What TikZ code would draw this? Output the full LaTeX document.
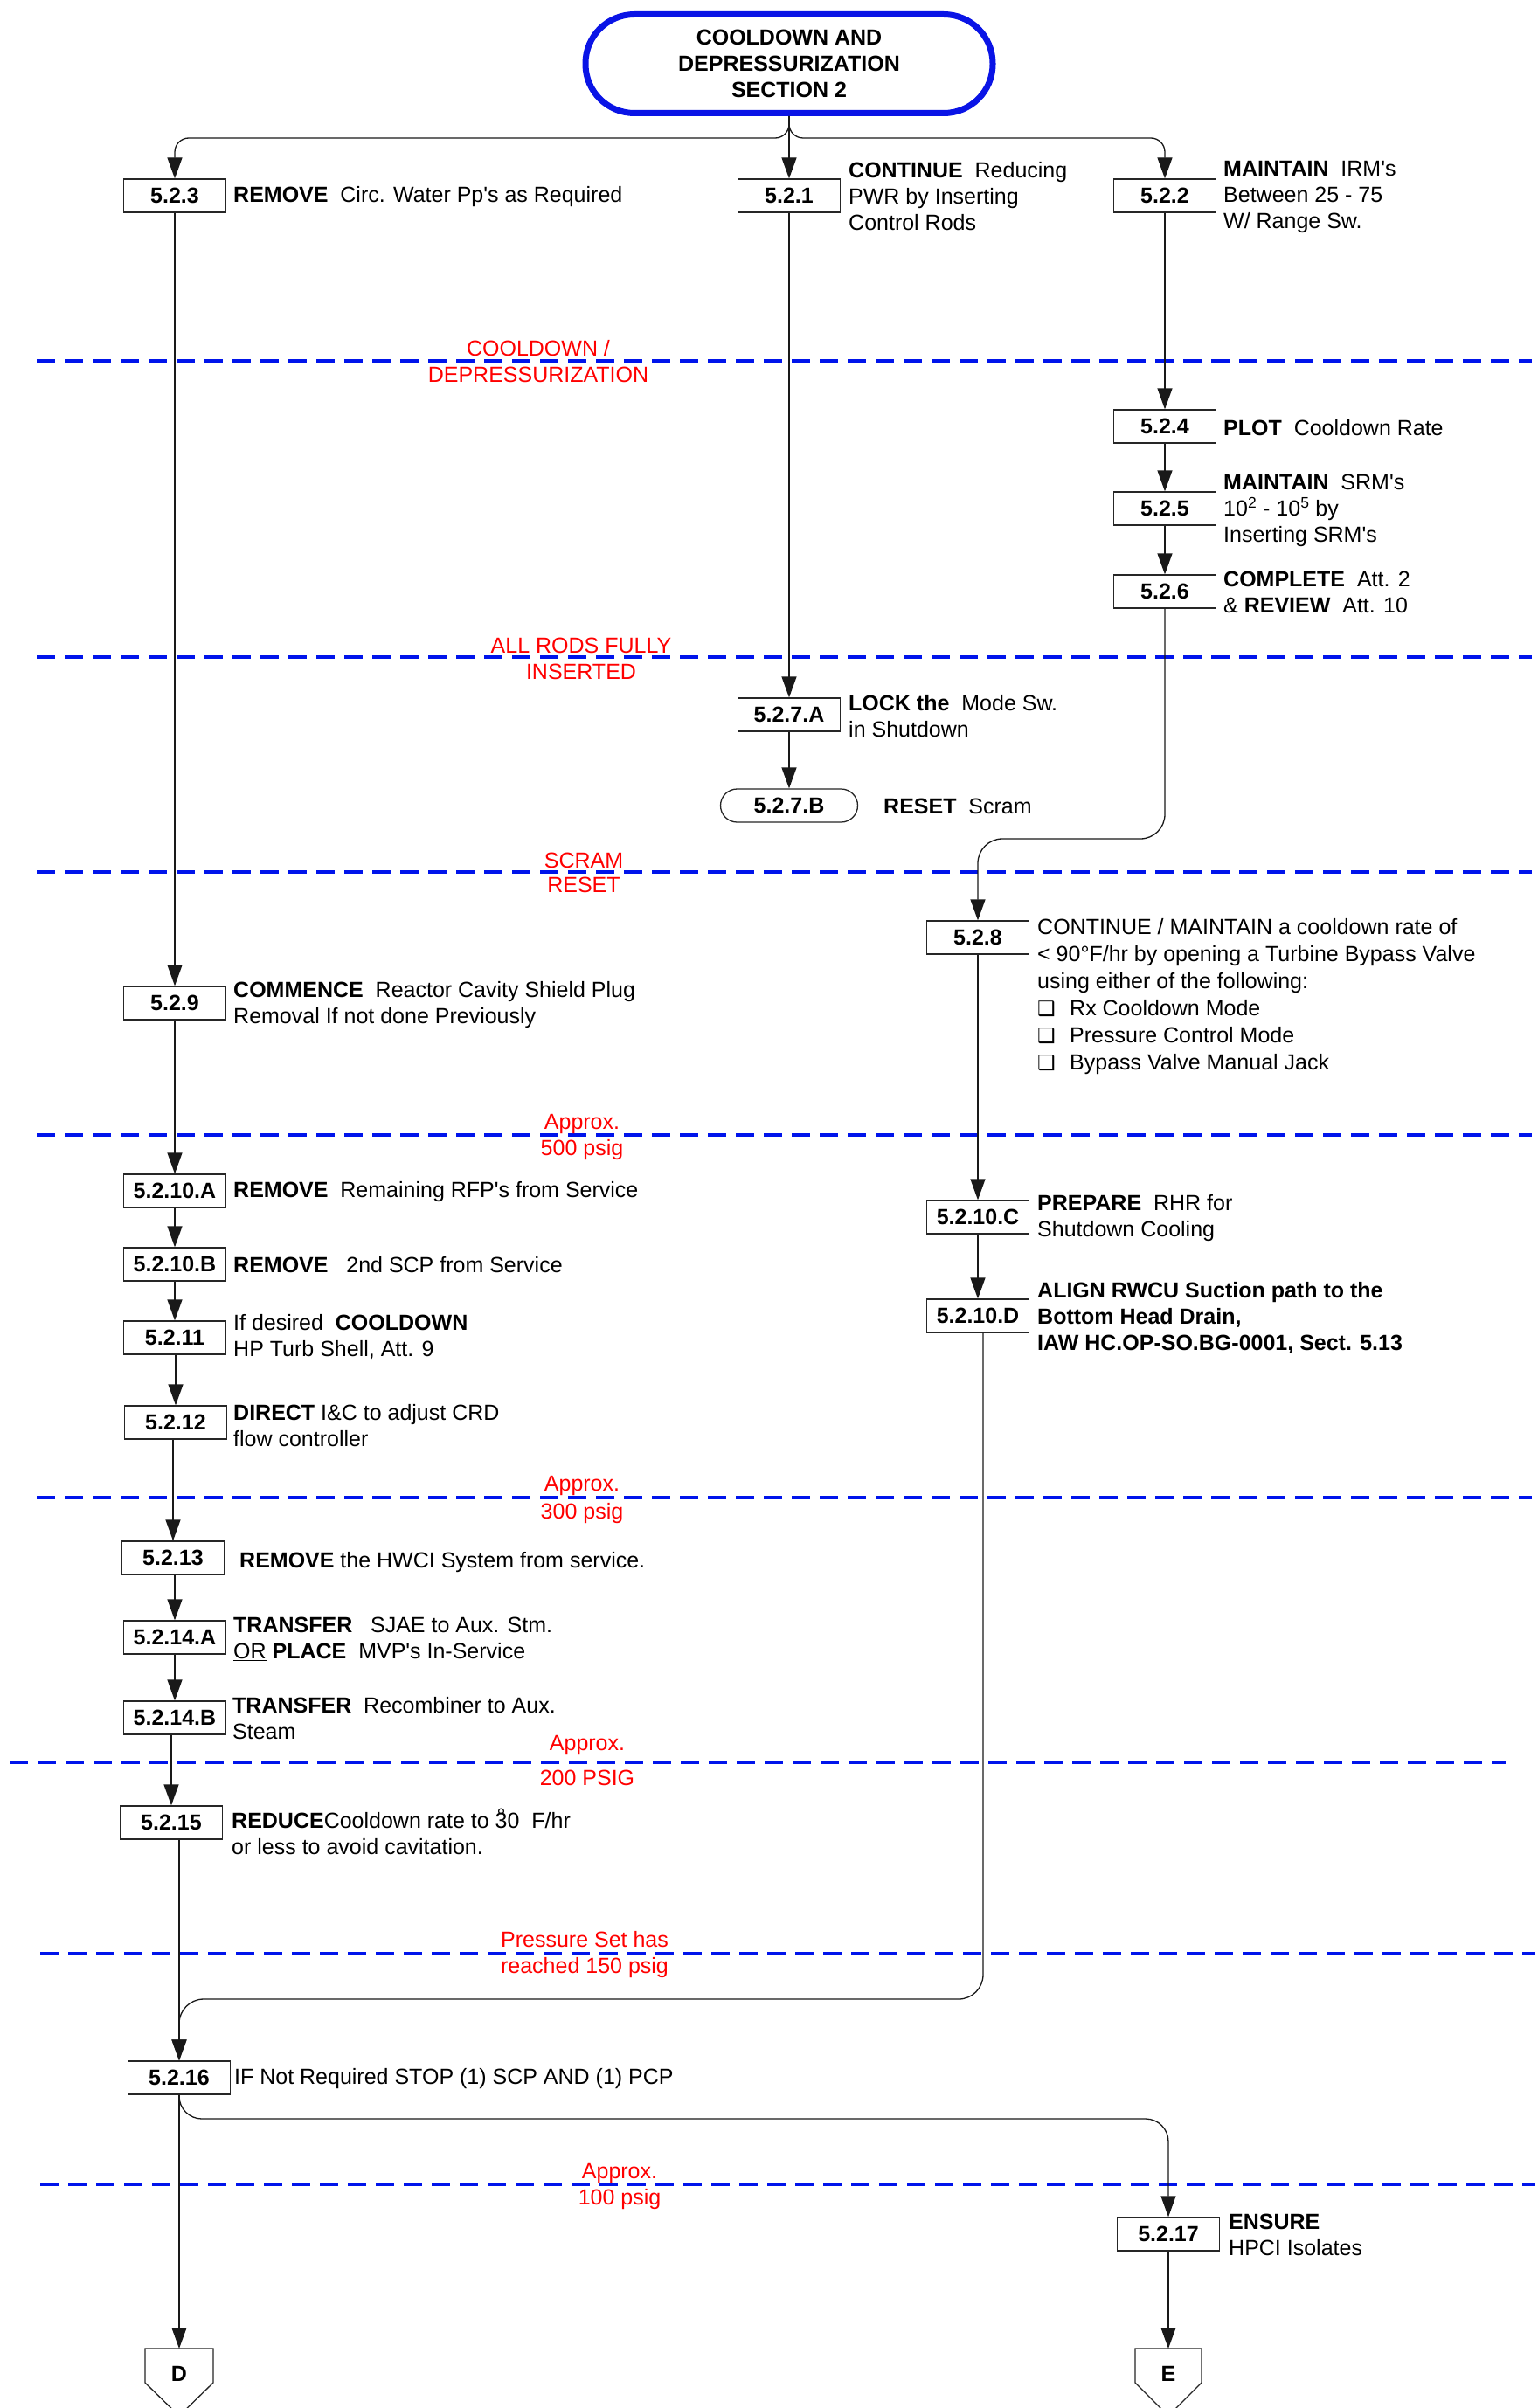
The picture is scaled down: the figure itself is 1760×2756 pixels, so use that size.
\documentclass[tikz,border=0pt]{standalone}
\usepackage{fontspec}
\setmainfont{Liberation Sans}[Ligatures=TeXOff]
\newfontfamily\dingfont{DejaVu Sans}
\usetikzlibrary{arrows.meta}
\definecolor{tblue}{RGB}{10,20,230}
\definecolor{dblue}{RGB}{0,20,235}
\definecolor{lred}{RGB}{255,0,0}
\newcommand{\bul}{\makebox[37pt][l]{\dingfont\fontsize{23}{24}\selectfont ❑}}
\begin{document}
\begin{tikzpicture}[x=1pt,y=-1pt,
  every node/.style={inner sep=0pt},
  stepbox/.style={draw=black!85, line width=1.3pt, minimum width=117pt, minimum height=38pt, font=\fontsize{25}{30}\selectfont\bfseries},
  txt/.style={anchor=west, align=left, font=\fontsize{25}{30}\selectfont},
  redlbl/.style={align=center, text=lred, font=\fontsize{25}{30}\selectfont},
  dline/.style={draw=dblue, line width=3.5pt, dash pattern=on 21pt off 11pt},
  arr/.style={draw=black!90, line width=1.3pt, -{Triangle[length=24pt,width=17pt]}},
  offpage/.style={draw=black!85, line width=1.3pt, fill=white},
  lbl/.style={font=\fontsize{25}{30}\selectfont\bfseries},
]
\useasboundingbox (0,0) rectangle (1760,2756);
\fill[white] (0,0) rectangle (1760,2756);
\clip (0,0) rectangle (1760,2756);

% dashed phase lines
\draw[dline] (42,413) -- (1753,413);
\draw[dline] (42,752) -- (1753,752);
\draw[dline] (42,998) -- (1753,998);
\draw[dline] (42,1299) -- (1753,1299);
\draw[dline] (42,1714) -- (1753,1714);
\draw[dline] (11,2017) -- (1723,2017);
\draw[dline] (46,2236) -- (1756,2236);
\draw[dline] (46,2500) -- (1756,2500);

% red labels
\node[redlbl] (l1) at (616,414) {COOLDOWN /\\DEPRESSURIZATION};
\node[redlbl] (l2) at (665,754) {ALL RODS FULLY\\INSERTED};
\node[redlbl] (l3) at (668,999) {SCRAM\\[-2pt]RESET};
\node[redlbl] (l4) at (666,1301) {Approx.\\500 psig};
\node[redlbl] (l5) at (666,1716) {Approx.\\[2pt]300 psig};
\node[redlbl] (l6) at (672,2015) {Approx.\\[10pt]200 PSIG};
\node[redlbl] (l7) at (669,2237) {Pressure Set has\\reached 150 psig};
\node[redlbl] (l8) at (709,2502) {Approx.\\100 psig};

% title
\node[draw=tblue, line width=7pt, rounded corners=56pt, minimum width=466pt, minimum height=113pt,
      align=center, font=\fontsize{25}{30}\selectfont\bfseries] (title) at (903,73)
      {COOLDOWN AND\\DEPRESSURIZATION\\SECTION 2};

% step boxes
\node[stepbox] (b523) at (200,224) {5.2.3};
\node[stepbox] (b521) at (903,224) {5.2.1};
\node[stepbox] (b522) at (1333,224) {5.2.2};
\node[stepbox] (b524) at (1333,488) {5.2.4};
\node[stepbox] (b525) at (1333,582) {5.2.5};
\node[stepbox] (b526) at (1333,677) {5.2.6};
\node[stepbox] (b527A) at (903,818) {5.2.7.A};
\node[stepbox, minimum width=157pt, rounded corners=19pt] (b527B) at (903,922) {5.2.7.B};
\node[stepbox] (b528) at (1119,1073) {5.2.8};
\node[stepbox] (b529) at (200,1148) {5.2.9};
\node[stepbox] (b5210A) at (200,1363) {5.2.10.A};
\node[stepbox] (b5210B) at (200,1447) {5.2.10.B};
\node[stepbox] (b5210C) at (1119,1393) {5.2.10.C};
\node[stepbox] (b5210D) at (1119,1506) {5.2.10.D};
\node[stepbox] (b5211) at (200,1531) {5.2.11};
\node[stepbox] (b5212) at (201,1628) {5.2.12};
\node[stepbox] (b5213) at (198,1783) {5.2.13};
\node[stepbox] (b5214A) at (200,1874) {5.2.14.A};
\node[stepbox] (b5214B) at (200,1966) {5.2.14.B};
\node[stepbox] (b5215) at (196,2086) {5.2.15};
\node[stepbox] (b5216) at (205,2378) {5.2.16};
\node[stepbox] (b5217) at (1337,2557) {5.2.17};

% step texts
\node[txt] (t523) at (267,225) {\textbf{REMOVE}\ \ Circ. Water Pp's as Required};
\node[txt] (t521) at (971,225) {\textbf{CONTINUE}\ \ Reducing\\PWR by Inserting\\Control Rods};
\node[txt] (t522) at (1400,225) {\textbf{MAINTAIN}\ \ IRM's\\Between 25 - 75\\W/ Range Sw.};
\node[txt] (t524) at (1400,490) {\textbf{PLOT}\ \ Cooldown Rate};
\node[txt] (t525) at (1400,584) {\textbf{MAINTAIN}\ \ SRM's\\10\textsuperscript{2} - 10\textsuperscript{5} by\\Inserting SRM's};
\node[txt] (t526) at (1400,678) {\textbf{COMPLETE}\ \ Att. 2\\\& \textbf{REVIEW}\ \ Att. 10};
\node[txt] (t527A) at (971,820) {\textbf{LOCK the}\ \ Mode Sw.\\in Shutdown};
\node[txt] (t527B) at (1011,923) {\textbf{RESET}\ \ Scram};
\node[txt, font=\fontsize{25}{31}\selectfont] (t528) at (1187,1141)
  {CONTINUE / MAINTAIN a cooldown rate of\\< 90°F/hr by opening a Turbine Bypass Valve\\using either of the following:\\\bul Rx Cooldown Mode\\\bul Pressure Control Mode\\\bul Bypass Valve Manual Jack};
\node[txt] (t529) at (267,1150) {\textbf{COMMENCE}\ \ Reactor Cavity Shield Plug\\Removal If not done Previously};
\node[txt] (t5210A) at (267,1364) {\textbf{REMOVE}\ \ Remaining RFP's from Service};
\node[txt] (t5210B) at (267,1448) {\textbf{REMOVE}\ \ \ 2nd SCP from Service};
\node[txt] (t5210C) at (1187,1394) {\textbf{PREPARE}\ \ RHR for\\Shutdown Cooling};
\node[txt, font=\fontsize{25}{30}\selectfont\bfseries] (t5210D) at (1187,1508) {ALIGN RWCU Suction path to the\\Bottom Head Drain,\\IAW HC.OP-SO.BG-0001, Sect. 5.13};
\node[txt] (t5211) at (267,1530) {If desired\ \ \textbf{COOLDOWN}\\HP Turb Shell, Att. 9};
\node[txt] (t5212) at (267,1632) {\textbf{DIRECT} I\&C to adjust CRD\\flow controller};
\node[txt] (t5213) at (274,1788) {\textbf{REMOVE} the HWCI System from service.};
\node[txt] (t5214A) at (267,1876) {\textbf{TRANSFER}\ \ \ SJAE to Aux. Stm.\\\underline{OR} \textbf{PLACE}\ \ MVP's In-Service};
\node[txt] (t5214B) at (266,1967) {\textbf{TRANSFER}\ \ Recombiner to Aux.\\Steam};
\node[txt] (t5215) at (265,2096) {\textbf{REDUCE}Cooldown rate to 3\llap{\raisebox{5pt}{°}\hspace{2pt}}0\ \ F/hr\\or less to avoid cavitation.};
\node[txt] (t5216) at (268,2379) {\underline{IF} Not Required STOP (1) SCP AND (1) PCP};
\node[txt] (t5217) at (1406,2558) {\textbf{ENSURE}\\HPCI Isolates};

% off-page connectors
\coordinate (D) at (205,2717);
\coordinate (E) at (1337,2717);
\draw[offpage] ([shift={(-39pt,29pt)}]D) -- ([shift={(39pt,29pt)}]D) -- ([shift={(39pt,-10pt)}]D) -- ([shift={(0pt,-48pt)}]D) -- ([shift={(-39pt,-10pt)}]D) -- cycle;
\draw[offpage] ([shift={(-38pt,29pt)}]E) -- ([shift={(38pt,29pt)}]E) -- ([shift={(38pt,-10pt)}]E) -- ([shift={(0pt,-48pt)}]E) -- ([shift={(-38pt,-10pt)}]E) -- cycle;
\node[lbl] (Dl) at (D) {D};
\node[lbl] (El) at (E) {E};

% junction coordinates
\coordinate (j) at (903,158);
\coordinate (k) at (0,960);
\coordinate (m) at (0,2288);
\coordinate (n) at (0,2425);

% connectors
\draw[arr] (title.south) -- (b521.north);
\draw[arr, rounded corners=16pt] (title.south) |- (b523.north |- j) -- (b523.north);
\draw[arr, rounded corners=16pt] (title.south) |- (b522.north |- j) -- (b522.north);

\draw[arr] (b522.south) -- (b524.north);
\draw[arr] (b524.south) -- (b525.north);
\draw[arr] (b525.south) -- (b526.north);
\draw[arr, rounded corners=28pt] (b526.south) |- (b528.north |- k) -- (b528.north);
\draw[arr] (b528.south) -- (b5210C.north);
\draw[arr] (b5210C.south) -- (b5210D.north);

\draw[arr] (b521.south) -- (b527A.north);
\draw[arr] (b527A.south) -- (b527B.north);

\draw[arr] (b523.south) -- (b529.north);
\draw[arr] (b529.south) -- (b5210A.north);
\draw[arr] (b5210A.south) -- (b5210B.north);
\draw[arr] (b5210B.south) -- (b5211.north);
\draw[arr] (b5211.south -| b5212.north) -- (b5212.north);
\draw[arr] (b5212.south -| b5213.north) -- (b5213.north);
\draw[arr] (b5213.south -| b5214A.north) -- (b5214A.north);
\draw[arr] (b5214A.south) -- (b5214B.north);
\draw[arr] (b5214B.south -| b5215.north) -- (b5215.north);
\draw[arr] (b5215.south -| b5216.north) -- (b5216.north);
\draw[arr, rounded corners=28pt] ([xshift=6pt]b5210D.south) |- (b5216.north |- m) -- (b5216.north);
\draw[arr, rounded corners=26pt] (b5216.south) |- (b5217.north |- n) -- (b5217.north);
\draw[arr] (b5216.south) -- ([yshift=29pt]D);
\draw[arr] (b5217.south) -- ([yshift=29pt]E);
\end{tikzpicture}
\end{document}
